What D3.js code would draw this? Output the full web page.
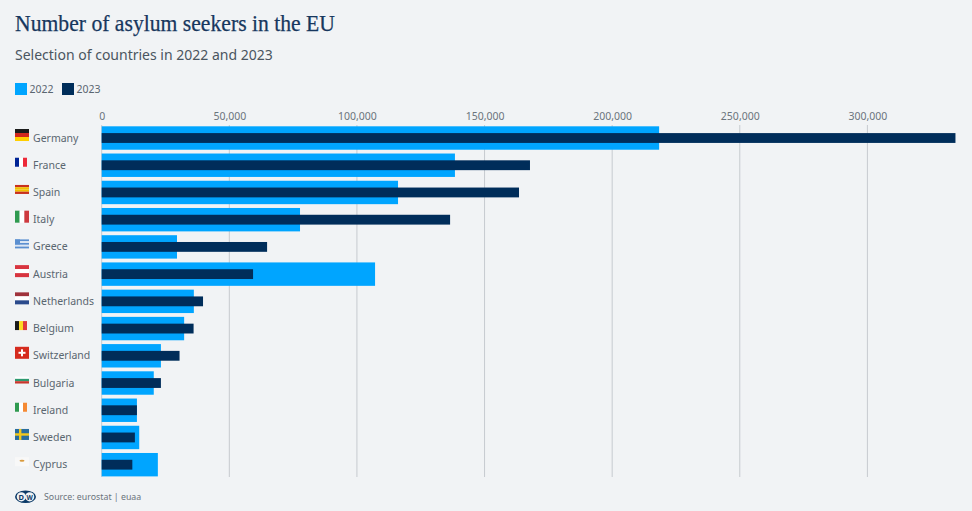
<!DOCTYPE html>
<html>
<head>
<meta charset="utf-8">
<script src="https://cdn.jsdelivr.net/npm/d3@7"></script>
<style>
html, body { margin: 0; padding: 0; background: #f1f3f5; }
svg { display: block; }
text { font-family: "Noto Sans", "Open Sans", sans-serif; }
</style>
</head>
<body>
<svg id="chart"></svg>
<script>
let countries = ['Germany','France','Spain','Italy','Greece','Austria','Netherlands','Belgium','Switzerland','Bulgaria','Ireland','Sweden','Cyprus']
let values2022 = [218400,138400,116100,77700,29500,107100,36100,32300,23200,20400,13800,14700,22000]
let values2023 = [334500,167800,163500,136500,64800,59300,39700,36000,30500,23200,13800,13000,12000]
let xTicks = [0,50000,100000,150000,200000,250000,300000]
let years = ['2022','2023']
let yearColors = ['#00a5ff','#002d5a']

// flag stripes, h = horizontal, v = vertical
let flagDirs = ['h','v','h','v','h','h','h','v','h','h','v','h','h']
let flagColors = [
    ['#1a1a1a','#d0271d','#ffce00'],
    ['#002395','#ffffff','#ed2939'],
    ['#c8301e','#f1bf00','#f1bf00','#c8301e'],
    ['#2f9a50','#ffffff','#ce3a3f'],
    ['#5b8fd0','#dbe6f4','#5b8fd0','#dbe6f4','#5b8fd0'],
    ['#d8343f','#ffffff','#d8343f'],
    ['#a0333c','#ffffff','#2b4a8c'],
    ['#1a1a1a','#fdda24','#e03a3e'],
    ['#d52b1e'],
    ['#ffffff','#2f9a70','#c8372d'],
    ['#2f9a50','#ffffff','#f58a34'],
    ['#2a6d9e'],
    ['#f8f8f8']
]
let flagHeights = [12,9,9,12,9,12,12,9,12,7,9,11,9]

let width = 972
let height = 511

let svg = d3.select('#chart').attr('width',width).attr('height',height)

let xscale = d3.scaleLinear().domain([0,300000]).range([101.7,867.4])
let yscale = d3.scaleBand().domain(countries).range([124.4,478.3]).paddingInner(0.14).paddingOuter(0.07)
let darkHeight = yscale.bandwidth()*0.42

// header
svg.append('text').attr('x',15).attr('y',31).text('Number of asylum seekers in the EU')
    .attr('textLength',320).attr('lengthAdjust','spacingAndGlyphs')
    .style('font-family','"Liberation Serif", serif').style('font-size','23px')
    .attr('fill','#17375e').attr('stroke','#17375e').attr('stroke-width',0.25)
svg.append('text').attr('x',15).attr('y',60).text('Selection of countries in 2022 and 2023')
    .style('font-size','14px').attr('fill','#4a5560')

// legend
let legendX = [15,62]
years.forEach((year,i) => {
    svg.append('rect').attr('x',legendX[i]).attr('y',83).attr('width',12).attr('height',12).attr('fill',yearColors[i])
    svg.append('text').attr('x',legendX[i]+14.5).attr('y',93).text(year)
        .style('font-size','10.5px').attr('fill','#5a6670')
})

// axis on top with grid lines
let xAxis = d3.axisTop(xscale).tickValues(xTicks).tickFormat(d3.format(',')).tickSize(0).tickPadding(0)
let axisG = svg.append('g').attr('transform','translate(0,120)').call(xAxis)
axisG.select('.domain').remove()
axisG.selectAll('text').style('font-size','10.5px').attr('fill','#6b747c').style('font-family','"Noto Sans", sans-serif')

svg.append('g').selectAll('line').data(xTicks).enter().append('line')
    .attr('x1',d=>xscale(d)).attr('x2',d=>xscale(d))
    .attr('y1',125).attr('y2',477)
    .attr('stroke','#c6cacf').attr('stroke-width',1)

// bars
svg.append('g').selectAll('rect').data(countries).enter().append('rect')
    .attr('x',xscale(0))
    .attr('y',d=>yscale(d))
    .attr('width',(d,i)=>xscale(values2022[i])-xscale(0))
    .attr('height',yscale.bandwidth())
    .attr('fill',yearColors[0])

svg.append('g').selectAll('rect').data(countries).enter().append('rect')
    .attr('x',xscale(0))
    .attr('y',d=>yscale(d)+(yscale.bandwidth()-darkHeight)/2)
    .attr('width',(d,i)=>xscale(values2023[i])-xscale(0))
    .attr('height',darkHeight)
    .attr('fill',yearColors[1])

// country labels
svg.append('g').selectAll('text').data(countries).enter().append('text')
    .attr('x',33)
    .attr('y',d=>yscale(d)+yscale.bandwidth()/2+3.5)
    .text(d=>d)
    .style('font-size','10.5px')
    .attr('fill','#5a6670')

// flags
let flags = svg.append('g')
countries.forEach((c,i) => {
    let fw = c=='Switzerland' ? 14 : (flagDirs[i]=='v' && flagHeights[i]==9 ? 12 : 14)
    let fh = flagHeights[i]
    let fx = 15
    let fy = yscale(c)+yscale.bandwidth()/2-fh/2-3
    let g = flags.append('g').attr('transform','translate('+fx+','+fy+')')
    let n = flagColors[i].length
    flagColors[i].forEach((col,k) => {
        if (flagDirs[i]=='h') {
            g.append('rect').attr('x',0).attr('y',k*fh/n).attr('width',fw).attr('height',fh/n).attr('fill',col)
        } else {
            g.append('rect').attr('x',k*fw/n).attr('y',0).attr('width',fw/n).attr('height',fh).attr('fill',col)
        }
    })
    if (c=='Switzerland') {
        g.append('rect').attr('x',fw/2-3.5).attr('y',fh/2-1).attr('width',7).attr('height',2).attr('fill','#fff')
        g.append('rect').attr('x',fw/2-1).attr('y',fh/2-3.5).attr('width',2).attr('height',7).attr('fill','#fff')
    }
    if (c=='Sweden') {
        g.append('rect').attr('x',0).attr('y',fh/2-1.2).attr('width',fw).attr('height',2.4).attr('fill','#f2c81e')
        g.append('rect').attr('x',4).attr('y',0).attr('width',2.4).attr('height',fh).attr('fill','#f2c81e')
    }
    if (c=='Cyprus') {
        g.append('ellipse').attr('cx',7).attr('cy',3.5).attr('rx',2.5).attr('ry',1).attr('fill','#d99a3c')
    }
    if (c=='Greece') {
        g.append('rect').attr('width',5).attr('height',5).attr('fill','#5b8fd0')
    }
})

// footer
let logo = svg.append('g').attr('transform','translate(15,490.5)')
logo.append('ellipse').attr('cx',10.5).attr('cy',6.3).attr('rx',10.5).attr('ry',6.3).attr('fill','#0b3a68')
logo.append('circle').attr('cx',6.3).attr('cy',6.3).attr('r',4.6).attr('fill','#f1f3f5')
logo.append('circle').attr('cx',14.7).attr('cy',6.3).attr('r',4.6).attr('fill','#f1f3f5')
logo.append('text').attr('x',6.3).attr('y',9).attr('text-anchor','middle').text('D')
    .style('font-size','7.5px').style('font-weight','700').attr('fill','#0b3a68')
logo.append('text').attr('x',14.7).attr('y',9).attr('text-anchor','middle').text('W')
    .style('font-size','6.5px').style('font-weight','700').attr('fill','#0b3a68')
svg.append('text').attr('x',44).attr('y',500).text('Source: eurostat | euaa')
    .style('font-size','8.8px').attr('fill','#6b747c')
</script>
</body>
</html>
